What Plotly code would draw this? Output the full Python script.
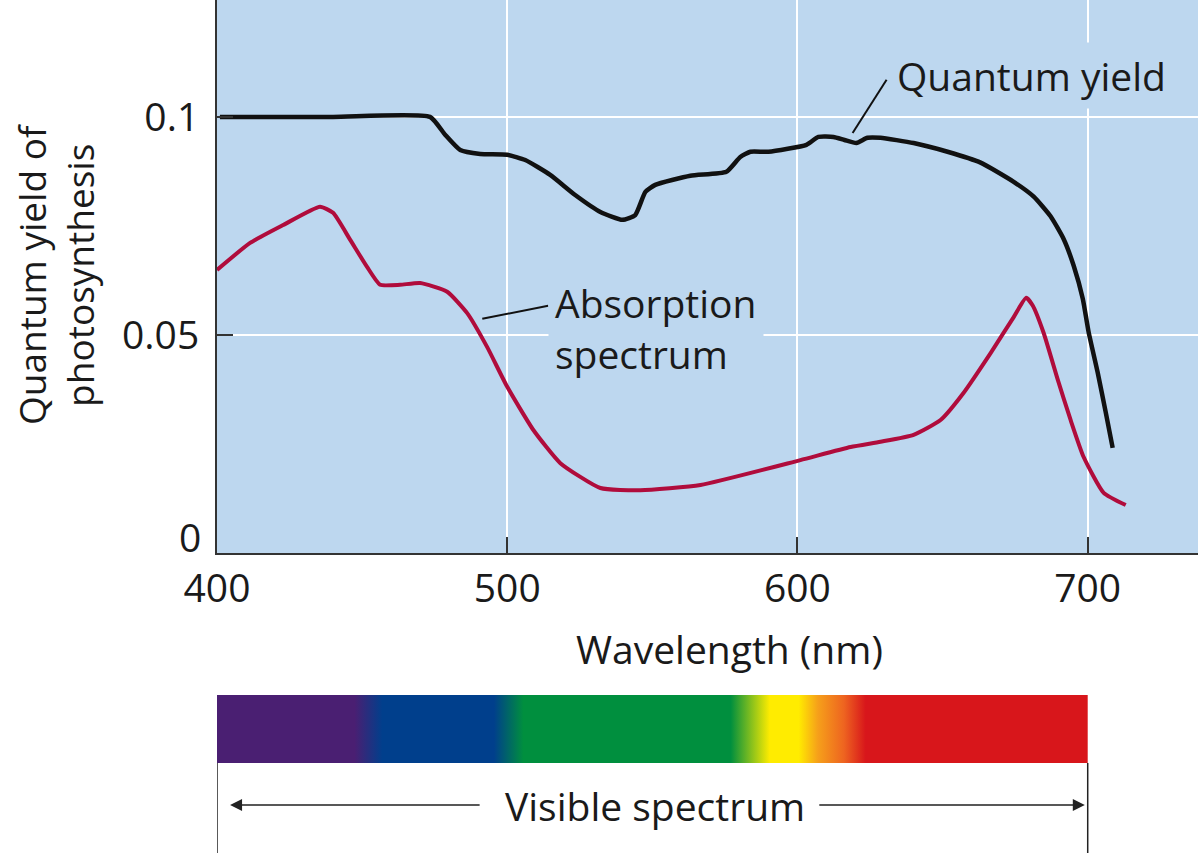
import plotly.graph_objects as go

# ---------------- data ----------------
qy_nm = [401, 440, 473.4, 478.6, 483.8, 490.7, 500.0, 506.2, 514.8, 523.4, 532.1, 539.7, 544.1,
         547.6, 551.0, 563.1, 575.5, 580.3, 583.8, 590.0, 603.1, 607.2, 612.4, 616.2, 620.3,
         624.1, 628.6, 640.0, 651.7, 663.1, 674.5, 681.4, 687.2, 691.7, 695.2, 698.3, 700.3,
         703.4, 706.2, 708.6]
qy_val = [0.1000, 0.1000, 0.1000, 0.0959, 0.0924, 0.0915, 0.0913, 0.0901, 0.0867, 0.0821, 0.0782,
          0.0764, 0.0775, 0.0828, 0.0844, 0.0865, 0.0874, 0.0908, 0.0920, 0.0920, 0.0936,
          0.0954, 0.0954, 0.0947, 0.0940, 0.0952, 0.0952, 0.0940, 0.0920, 0.0895, 0.0851,
          0.0817, 0.0772, 0.0720, 0.0658, 0.0583, 0.0507, 0.0415, 0.0323, 0.0241]

abs_nm = [400, 411.4, 422.8, 435.5, 440, 445.9, 451.7, 456.2, 463.1, 470, 479.3, 486.2,
          493.1, 500, 509, 518.3, 532.1, 545.9, 566.6, 601, 618.3, 628.6, 640.0, 649.3, 657.2,
          666.6, 674.5, 678.8, 681.0, 684.8, 689.7, 694.1, 698.6, 705.5, 713.1]
abs_val = [0.0649, 0.0711, 0.0752, 0.0794, 0.0780, 0.0718, 0.0656, 0.0615, 0.0615, 0.0619,
           0.0599, 0.0550, 0.0472, 0.0381, 0.0282, 0.0206, 0.0149, 0.0144, 0.0156, 0.0213,
           0.0243, 0.0255, 0.0271, 0.0305, 0.0367, 0.0459, 0.0541, 0.0585, 0.0568, 0.0505,
           0.0397, 0.0305, 0.0220, 0.0138, 0.0110]

x_ticks = [400, 500, 600, 700]
x_tick_labels = ["400", "500", "600", "700"]
y_ticks = [0, 0.05, 0.1]
y_tick_labels = ["0", "0.05", "0.1"]

visible_range = [400, 700]
spectrum_stops = [0.0, 0.158, 0.19, 0.318, 0.352, 0.59, 0.635, 0.668, 0.69, 0.72, 0.745, 1.0]
spectrum_colors = ["#4A1F72", "#4A1F72", "#003F8C", "#003F8C", "#008F3E", "#008F3E",
                   "#FFEC00", "#FFEC00", "#F6A01A", "#EE6420", "#D8161B", "#D8161B"]

BG = "#BDD7EF"
FONT = "Open Sans"
FS = 39

fig = go.Figure()

fig.add_trace(go.Scatter(x=qy_nm, y=qy_val, mode="lines",
                         line=dict(color="#111111", width=4.5, shape="spline", smoothing=0.5),
                         showlegend=False, hoverinfo="skip"))
fig.add_trace(go.Scatter(x=abs_nm, y=abs_val, mode="lines",
                         line=dict(color="#B00C3C", width=4, shape="spline", smoothing=0.5),
                         showlegend=False, hoverinfo="skip"))

# spectrum bar
vx0, vx1 = visible_range
fig.add_trace(go.Scatter(x=[vx0, vx1, vx1, vx0, vx0], y=[0, 0, 1, 1, 0],
                         xaxis="x2", yaxis="y2", mode="lines", line=dict(width=0),
                         fill="toself",
                         fillgradient=dict(type="horizontal",
                                           colorscale=[[s, c] for s, c in zip(spectrum_stops, spectrum_colors)]),
                         showlegend=False, hoverinfo="skip"))

H = 853
main_bottom = (H - 553) / H
bar_bottom = (H - 763) / H
bar_top = (H - 695) / H

fig.update_layout(
    width=1198, height=H, autosize=False,
    margin=dict(l=217, r=0, t=0, b=0, autoexpand=False),
    paper_bgcolor="white", plot_bgcolor="white",
    font=dict(family=FONT, size=FS, color="#1a1a1a"),
    xaxis=dict(range=[400, 738], domain=[0, 1], anchor="y", automargin=False,
               tickvals=x_ticks, ticktext=x_tick_labels,
               showgrid=True, gridcolor="white", gridwidth=2, zeroline=False,
               showline=True, linecolor="#333333", linewidth=2,
               ticks="inside", ticklen=16, tickwidth=2, tickcolor="#333333",
               tickfont=dict(size=FS)),
    yaxis=dict(range=[0, 0.1268], domain=[main_bottom, 1], anchor="x", automargin=False,
               tickvals=y_ticks, ticktext=["", y_tick_labels[1], y_tick_labels[2]],
               showgrid=True, gridcolor="white", gridwidth=2, zeroline=False,
               showline=True, linecolor="#333333", linewidth=2,
               ticks="inside", ticklen=16, tickwidth=2, tickcolor="#333333",
               ticklabelstandoff=8,
               tickfont=dict(size=FS)),
    xaxis2=dict(range=[400, 738], domain=[0, 1], anchor="y2", visible=False),
    yaxis2=dict(range=[0, 1], domain=[bar_bottom, bar_top], anchor="x2", visible=False),
)

# blue plot background (below gridlines)
fig.add_shape(type="rect", xref="x domain", yref="y domain", x0=0, x1=1, y0=0, y1=1,
              fillcolor=BG, line=dict(width=0), layer="below")

# "0" tick label, raised slightly as in the original
fig.add_annotation(x=0, y=0, xref="paper", yref="y", text=y_tick_labels[0], showarrow=False,
                   xanchor="right", yanchor="middle", xshift=-14, yshift=17,
                   font=dict(size=FS))

# y axis title
fig.add_annotation(x=(55 - 217) / 981, y=(H - 274) / H, xref="paper", yref="paper",
                   text="Quantum yield of<br>photosynthesis", textangle=-90, showarrow=False,
                   xanchor="center", yanchor="middle", font=dict(size=37))

# leader lines
fig.add_shape(type="line", xref="x", yref="y", x0=619.0, y0=0.0963, x1=630.7, y1=0.1085,
              line=dict(color="#111111", width=2))
fig.add_shape(type="line", xref="x", yref="y", x0=491.4, y0=0.0537, x1=514.1, y1=0.0567,
              line=dict(color="#111111", width=2))

fig.add_annotation(x=632.0, y=0.1094, xref="x", yref="y", text="Quantum yield",
                   showarrow=False, xanchor="left", yanchor="middle", align="left",
                   bgcolor=BG, borderpad=6, font=dict(size=FS))
fig.add_annotation(x=514.0, y=0.0516, xref="x", yref="y", text="Absorption<br>spectrum",
                   showarrow=False, xanchor="left", yanchor="middle", align="left",
                   bgcolor=BG, borderpad=6, font=dict(size=FS))

# x axis title
fig.add_annotation(x=(729 - 217) / 981, y=(H - 648) / H, xref="paper", yref="paper",
                   text="Wavelength (nm)", showarrow=False, xanchor="center", yanchor="middle",
                   font=dict(size=FS))

# visible spectrum bracket
arrow_y = (H - 805) / H
for xv in visible_range:
    fig.add_shape(type="line", xref="x2", yref="paper", x0=xv, x1=xv, y0=0, y1=bar_bottom,
                  line=dict(color="#222222", width=1.5))
fig.add_annotation(x=404.5, y=arrow_y, ax=491, ay=0, xref="x2", yref="paper",
                   axref="x2", ayref="pixel", text="", showarrow=True,
                   arrowhead=2, arrowsize=1.6, arrowwidth=1.5, arrowcolor="#222222")
fig.add_annotation(x=699.0, y=arrow_y, ax=607, ay=0, xref="x2", yref="paper",
                   axref="x2", ayref="pixel", text="", showarrow=True,
                   arrowhead=2, arrowsize=1.6, arrowwidth=1.5, arrowcolor="#222222")
fig.add_annotation(x=551.0, y=arrow_y, xref="x2", yref="paper", text="Visible spectrum",
                   showarrow=False, xanchor="center", yanchor="middle",
                   bgcolor="white", borderpad=4, font=dict(size=FS))

fig.write_html("out.html",
               config={"displayModeBar": False},
               post_script="document.body.style.margin='0px';"
                           "document.body.style.overflow='hidden';"
                           "window.dispatchEvent(new Event('resize'));")
